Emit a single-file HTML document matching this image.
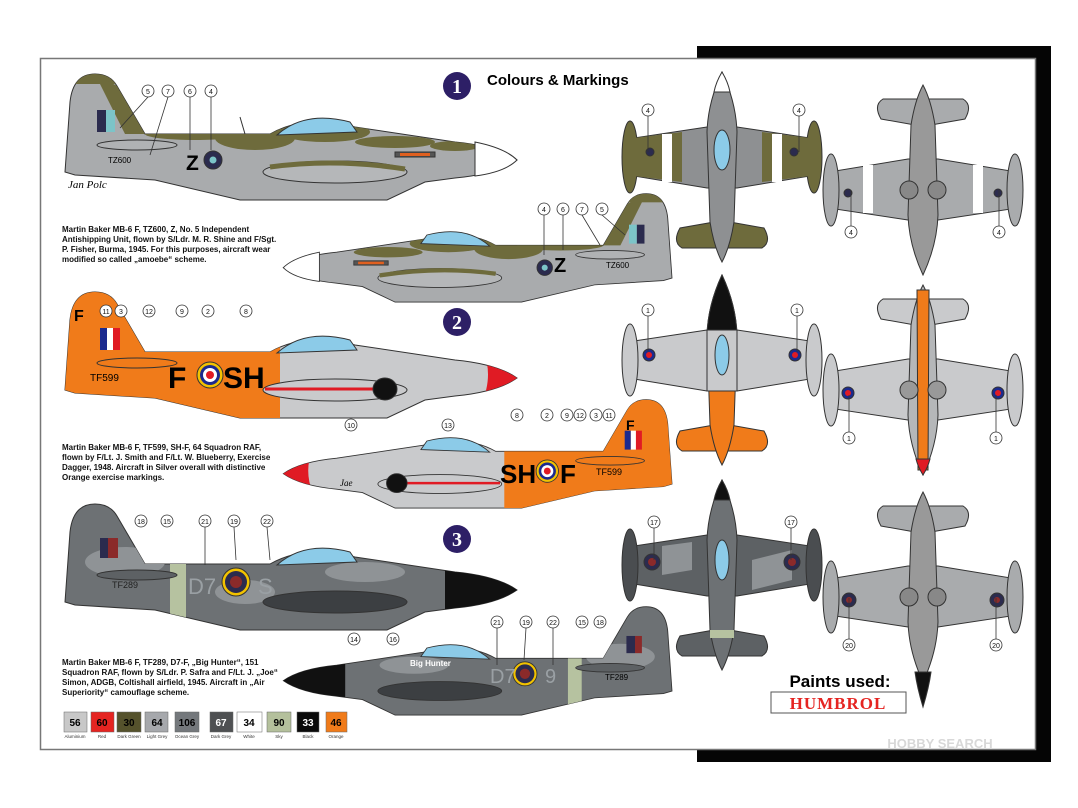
<!DOCTYPE html>
<html><head><meta charset="utf-8"><style>
html,body{margin:0;padding:0;background:#fff;}
svg{display:block;font-family:"Liberation Sans",Arial,sans-serif;}
</style></head><body>
<svg width="1078" height="808" viewBox="0 0 1078 808" xmlns="http://www.w3.org/2000/svg">
<defs>
<path id="fus" d="M0,100 L5,30 Q8,2 30,2 Q45,2 52,14 L80,62 L205,62 Q240,42 290,55 L390,70 Q432,74 452,88 Q432,102 390,106 L360,110 L322,128 L175,128 L90,108 L10,103 Z"/>
<clipPath id="fc"><use href="#fus"/></clipPath>
<path id="can" d="M212,63 Q240,38 285,50 L292,60 Z"/>
<ellipse id="belly" cx="270" cy="100" rx="72" ry="11"/>
<ellipse id="tp" cx="72" cy="73" rx="40" ry="5"/>
<path id="pf" d="M0,0 Q-14,30 -15,60 L-12,150 Q-8,175 0,190 Q8,175 12,150 L15,60 Q14,30 0,0 Z"/>
<path id="pw" d="M-15,55 L-88,66 L-88,104 L-15,116 L15,116 L88,104 L88,66 L15,55 Z"/>
<path id="pt" d="M-8,150 L-42,156 Q-50,170 -40,176 L40,176 Q50,170 42,156 L8,150 Z"/>
<g id="tanks"><ellipse cx="-92" cy="85" rx="8" ry="36"/><ellipse cx="92" cy="85" rx="8" ry="36"/></g>
</defs>

<rect x="697" y="46" width="354" height="716" fill="#050505"/>
<rect x="40.5" y="58.5" width="995" height="691" fill="#fff" stroke="#777" stroke-width="1.5"/>

<circle cx="457" cy="86" r="14" fill="#2d1f66"/><text x="457" y="93" font-size="20" font-weight="bold" fill="#fff" text-anchor="middle" font-family="Liberation Serif">1</text>
<text x="487" y="85" font-size="15" font-weight="bold">Colours &amp; Markings</text>
<circle cx="457" cy="322" r="14" fill="#2d1f66"/><text x="457" y="329" font-size="20" font-weight="bold" fill="#fff" text-anchor="middle" font-family="Liberation Serif">2</text>
<circle cx="457" cy="539" r="14" fill="#2d1f66"/><text x="457" y="546" font-size="20" font-weight="bold" fill="#fff" text-anchor="middle" font-family="Liberation Serif">3</text>

<!-- SIDE 1 -->
<g transform="translate(65,72)" stroke="#333" stroke-width="1">
 <use href="#fus" fill="#a9abad"/>
 <g clip-path="url(#fc)" fill="#6e6b3c" stroke="none">
  <rect x="0" y="0" width="60" height="12"/><path d="M30,2 L52,14 L80,62 L60,62 Z"/><ellipse cx="130" cy="62" rx="50" ry="6"/><ellipse cx="190" cy="66" rx="40" ry="12"/><ellipse cx="260" cy="60" rx="45" ry="10"/><ellipse cx="330" cy="70" rx="40" ry="6"/><ellipse cx="390" cy="74" rx="25" ry="5"/>
 </g>
 <use href="#tp" fill="#b0b2b4"/>
 <use href="#belly" fill="#b5b7b9"/>
 <path d="M205,95 Q270,86 340,97" stroke="#6e6b3c" stroke-width="5" fill="none"/>
 <use href="#can" fill="#8ccbe8"/>
 <rect x="32" y="38" width="9" height="22" fill="#2b2b4e" stroke="none"/><rect x="41" y="38" width="9" height="22" fill="#7cc4c8" stroke="none"/>
 <path d="M410,70 Q440,76 452,88 Q440,100 410,104 Z" fill="#fff"/>
 <circle cx="148" cy="88" r="9" fill="#2b2b4e"/><circle cx="148" cy="88" r="3.5" fill="#7cc4c8" stroke="none"/>
 <rect x="330" y="80" width="40" height="5" fill="#555"/><rect x="335" y="81" width="30" height="3" fill="#e06020" stroke="none"/>
 <path d="M175,45 L180,62" stroke="#333" fill="none"/>
</g>
<text x="186" y="170" font-size="21" font-weight="bold">Z</text>
<text x="108" y="163" font-size="8">TZ600</text>
<text x="68" y="188" font-size="11" font-style="italic" font-family="Liberation Serif">Jan Polc</text>

<!-- SIDE 2 (mirrored) -->
<g transform="translate(672,192) scale(-0.86,0.86)" stroke="#333" stroke-width="1">
 <use href="#fus" fill="#a9abad"/>
 <g clip-path="url(#fc)" fill="#6e6b3c" stroke="none">
  <rect x="0" y="0" width="60" height="12"/><path d="M30,2 L52,14 L80,62 L60,62 Z"/><ellipse cx="130" cy="62" rx="50" ry="6"/><ellipse cx="190" cy="66" rx="40" ry="12"/><ellipse cx="260" cy="60" rx="45" ry="10"/><ellipse cx="330" cy="70" rx="40" ry="6"/>
 </g>
 <use href="#tp" fill="#b0b2b4"/>
 <use href="#belly" fill="#b5b7b9"/>
 <path d="M205,95 Q270,86 340,97" stroke="#6e6b3c" stroke-width="5" fill="none"/>
 <use href="#can" fill="#8ccbe8"/>
 <rect x="32" y="38" width="9" height="22" fill="#2b2b4e" stroke="none"/><rect x="41" y="38" width="9" height="22" fill="#7cc4c8" stroke="none"/>
 <path d="M410,70 Q440,76 452,88 Q440,100 410,104 Z" fill="#fff"/>
 <circle cx="148" cy="88" r="9" fill="#2b2b4e"/><circle cx="148" cy="88" r="3.5" fill="#7cc4c8" stroke="none"/>
 <rect x="330" y="80" width="40" height="5" fill="#555"/><rect x="335" y="81" width="30" height="3" fill="#e06020" stroke="none"/>
</g>
<text x="554" y="272" font-size="20" font-weight="bold">Z</text>
<text x="606" y="268" font-size="8">TZ600</text>

<!-- SIDE 3 orange -->
<g transform="translate(65,290)" stroke="#333" stroke-width="1">
 <use href="#fus" fill="#c9cacc"/>
 <g clip-path="url(#fc)" stroke="none"><rect x="0" y="0" width="215" height="130" fill="#f07b1a"/><path d="M418,60 L460,60 L460,110 L418,110 Q428,84 418,60Z" fill="#e01b24"/></g>
 <use href="#tp" fill="#f07b1a"/>
 <use href="#belly" fill="#c9cacc"/>
 <path d="M200,99 L318,99" stroke="#e01b24" stroke-width="3"/>
 <ellipse cx="320" cy="99" rx="12" ry="11" fill="#111"/>
 <use href="#can" fill="#8ccbe8"/>
 <rect x="35" y="38" width="7" height="22" fill="#1b2a8f" stroke="none"/><rect x="42" y="38" width="6" height="22" fill="#fff" stroke="none"/><rect x="48" y="38" width="7" height="22" fill="#e01b24" stroke="none"/>
 <circle cx="145" cy="85" r="13" fill="#f2c200"/><circle cx="145" cy="85" r="10" fill="#1b2a8f" stroke="none"/><circle cx="145" cy="85" r="7" fill="#fff" stroke="none"/><circle cx="145" cy="85" r="4" fill="#e01b24" stroke="none"/>
</g>
<text x="168" y="388" font-size="30" font-weight="bold">F</text>
<text x="223" y="388" font-size="30" font-weight="bold">SH</text>
<text x="74" y="321" font-size="16" font-weight="bold">F</text>
<text x="90" y="381" font-size="10">TF599</text>

<!-- SIDE 4 -->
<g transform="translate(672,398) scale(-0.86,0.86)" stroke="#333" stroke-width="1">
 <use href="#fus" fill="#c9cacc"/>
 <g clip-path="url(#fc)" stroke="none"><rect x="0" y="0" width="195" height="130" fill="#f07b1a"/><path d="M418,60 L460,60 L460,110 L418,110 Q428,84 418,60Z" fill="#e01b24"/></g>
 <use href="#tp" fill="#f07b1a"/>
 <use href="#belly" fill="#c9cacc"/>
 <path d="M200,99 L318,99" stroke="#e01b24" stroke-width="3"/>
 <ellipse cx="320" cy="99" rx="12" ry="11" fill="#111"/>
 <use href="#can" fill="#8ccbe8"/>
 <rect x="35" y="38" width="7" height="22" fill="#e01b24" stroke="none"/><rect x="42" y="38" width="6" height="22" fill="#fff" stroke="none"/><rect x="48" y="38" width="7" height="22" fill="#1b2a8f" stroke="none"/>
 <circle cx="145" cy="85" r="13" fill="#f2c200"/><circle cx="145" cy="85" r="10" fill="#1b2a8f" stroke="none"/><circle cx="145" cy="85" r="7" fill="#fff" stroke="none"/><circle cx="145" cy="85" r="4" fill="#e01b24" stroke="none"/>
</g>
<text x="500" y="483" font-size="26" font-weight="bold">SH</text>
<text x="560" y="483" font-size="26" font-weight="bold">F</text>
<text x="626" y="430" font-size="14" font-weight="bold">F</text>
<text x="596" y="475" font-size="9">TF599</text>
<text x="340" y="486" font-size="9" font-style="italic" font-family="Liberation Serif">Jae</text>

<!-- SIDE 5 dark -->
<g transform="translate(65,502)" stroke="#333" stroke-width="1">
 <use href="#fus" fill="#6d7174"/>
 <g clip-path="url(#fc)" stroke="none">
  <ellipse cx="60" cy="60" rx="40" ry="15" fill="#8f9396"/><ellipse cx="180" cy="90" rx="30" ry="12" fill="#8f9396"/><ellipse cx="300" cy="70" rx="40" ry="10" fill="#8f9396"/><rect x="105" y="40" width="16" height="90" fill="#b6c2a0"/><path d="M380,50 L460,50 L460,120 L380,120 Z" fill="#111"/>
 </g>
 <use href="#tp" fill="#5d6164"/>
 <use href="#belly" fill="#3c3f42"/>
 <use href="#can" fill="#8ccbe8"/>
 <rect x="35" y="36" width="8" height="20" fill="#2b2b4e" stroke="none"/><rect x="43" y="36" width="10" height="20" fill="#8b2a2a" stroke="none"/>
 <circle cx="171" cy="80" r="14" fill="#f2c200"/><circle cx="171" cy="80" r="11" fill="#2b2b4e" stroke="none"/><circle cx="171" cy="80" r="6" fill="#8b2a2a" stroke="none"/>
</g>
<text x="188" y="594" font-size="22" fill="#9aa0a4">D7</text>
<text x="258" y="594" font-size="22" fill="#9aa0a4">S</text>
<text x="112" y="588" font-size="9" fill="#222">TF289</text>

<!-- SIDE 6 -->
<g transform="translate(672,605) scale(-0.86,0.86)" stroke="#333" stroke-width="1">
 <use href="#fus" fill="#6d7174"/>
 <g clip-path="url(#fc)" stroke="none">
  <ellipse cx="60" cy="60" rx="40" ry="15" fill="#8f9396"/><ellipse cx="300" cy="70" rx="40" ry="10" fill="#8f9396"/><rect x="105" y="40" width="16" height="90" fill="#b6c2a0"/><path d="M380,50 L460,50 L460,120 L380,120 Z" fill="#111"/>
 </g>
 <use href="#tp" fill="#5d6164"/>
 <use href="#belly" fill="#3c3f42"/>
 <use href="#can" fill="#8ccbe8"/>
 <rect x="35" y="36" width="8" height="20" fill="#8b2a2a" stroke="none"/><rect x="43" y="36" width="10" height="20" fill="#2b2b4e" stroke="none"/>
 <circle cx="171" cy="80" r="14" fill="#f2c200"/><circle cx="171" cy="80" r="11" fill="#2b2b4e" stroke="none"/><circle cx="171" cy="80" r="6" fill="#8b2a2a" stroke="none"/>
</g>
<text x="490" y="683" font-size="20" fill="#9aa0a4">D7</text>
<text x="545" y="683" font-size="20" fill="#9aa0a4">9</text>
<text x="410" y="666" font-size="8" fill="#fff" font-weight="bold">Big Hunter</text>
<text x="605" y="680" font-size="8">TF289</text>

<g font-size="8" font-weight="bold" fill="#111">
<text x="62" y="232">Martin Baker MB-6 F, TZ600, Z, No. 5 Independent</text>
<text x="62" y="242">Antishipping Unit, flown by S/Ldr. M. R. Shine and F/Sgt.</text>
<text x="62" y="252">P. Fisher, Burma, 1945. For this purposes, aircraft wear</text>
<text x="62" y="262">modified so called „amoebe“ scheme.</text>
<text x="62" y="450">Martin Baker MB-6 F, TF599, SH-F, 64 Squadron RAF,</text>
<text x="62" y="460">flown by F/Lt. J. Smith and F/Lt. W. Blueberry, Exercise</text>
<text x="62" y="470">Dagger, 1948. Aircraft in Silver overall with distinctive</text>
<text x="62" y="480">Orange exercise markings.</text>
<text x="62" y="665">Martin Baker MB-6 F, TF289, D7-F, „Big Hunter“, 151</text>
<text x="62" y="675">Squadron RAF, flown by S/Ldr. P. Safra and F/Lt. J. „Joe“</text>
<text x="62" y="685">Simon, ADGB, Coltishall airfield, 1945. Aircraft in „Air</text>
<text x="62" y="695">Superiority“ camouflage scheme.</text>
</g>

<g font-size="10" font-weight="bold" text-anchor="middle" stroke="#666" stroke-width="0.5">
<rect x="64" y="712" width="23" height="20" fill="#c8c8c8"/><text x="75" y="726" stroke="none">56</text>
<rect x="91" y="712" width="23" height="20" fill="#e52421"/><text x="102" y="726" stroke="none">60</text>
<rect x="117" y="712" width="24" height="20" fill="#55522c"/><text x="129" y="726" stroke="none">30</text>
<rect x="145" y="712" width="23" height="20" fill="#a6a8ac"/><text x="157" y="726" stroke="none">64</text>
<rect x="175" y="712" width="24" height="20" fill="#74787c"/><text x="187" y="726" stroke="none">106</text>
<rect x="210" y="712" width="23" height="20" fill="#4e5052"/><text x="221" y="726" stroke="none" fill="#fff">67</text>
<rect x="237" y="712" width="25" height="20" fill="#fff"/><text x="249" y="726" stroke="none">34</text>
<rect x="267" y="712" width="24" height="20" fill="#b4c09c"/><text x="279" y="726" stroke="none">90</text>
<rect x="297" y="712" width="22" height="20" fill="#0a0a0a"/><text x="308" y="726" stroke="none" fill="#fff">33</text>
<rect x="326" y="712" width="21" height="20" fill="#f07b1a"/><text x="336" y="726" stroke="none">46</text>
</g>
<g font-size="4.5" text-anchor="middle" fill="#333">
<text x="75" y="738">Aluminium</text><text x="102" y="738">Red</text><text x="129" y="738">Dark Green</text><text x="157" y="738">Light Grey</text><text x="187" y="738">Ocean Grey</text><text x="221" y="738">Dark Grey</text><text x="249" y="738">White</text><text x="279" y="738">Sky</text><text x="308" y="738">Black</text><text x="336" y="738">Orange</text>
</g>

<g transform="translate(722,72)" stroke="#333" stroke-width="1">
 <use href="#pw" fill="#8e9092"/><use href="#tanks" fill="#6e6b3c"/>
 <path d="M-88,66 L-40,60 L-40,110 L-88,104Z M40,60 L88,66 L88,104 L40,110Z" fill="#6e6b3c" stroke="none"/>
 <rect x="-60" y="62" width="10" height="48" fill="#fff" stroke="none"/><rect x="50" y="62" width="10" height="48" fill="#fff" stroke="none"/>
 <use href="#pt" fill="#6e6b3c"/>
 <use href="#pf" fill="#8e9092"/>
 <path d="M0,0 Q-6,10 -8,20 L8,20 Q6,10 0,0Z" fill="#fff"/>
 <ellipse cx="0" cy="78" rx="8" ry="20" fill="#8ccbe8"/>
 <circle cx="-72" cy="80" r="4" fill="#2b2b4e"/><circle cx="72" cy="80" r="4" fill="#2b2b4e"/>
</g>
<g transform="translate(923,275) scale(1,-1)" stroke="#333" stroke-width="1">
 <use href="#pw" fill="#a9abad"/><use href="#tanks" fill="#a9abad"/>
 <rect x="-60" y="62" width="10" height="48" fill="#fff" stroke="none"/><rect x="50" y="62" width="10" height="48" fill="#fff" stroke="none"/>
 <use href="#pt" fill="#a9abad"/>
 <use href="#pf" fill="#999"/>
 <circle cx="-75" cy="82" r="4" fill="#2b2b4e"/><circle cx="75" cy="82" r="4" fill="#2b2b4e"/>
 <circle cx="-14" cy="85" r="9" fill="#888"/><circle cx="14" cy="85" r="9" fill="#888"/>
</g>

<g transform="translate(722,275)" stroke="#333" stroke-width="1">
 <use href="#pw" fill="#c9cacc"/><use href="#tanks" fill="#c9cacc"/>
 <use href="#pt" fill="#f07b1a"/>
 <use href="#pf" fill="#f07b1a"/>
 <path d="M0,0 Q-14,30 -15,60 L15,60 Q14,30 0,0Z" fill="#111"/>
 <path d="M-15,55 L-15,116 L15,116 L15,55Z" fill="#c9cacc"/>
 <ellipse cx="0" cy="80" rx="7" ry="20" fill="#8ccbe8"/>
 <circle cx="-73" cy="80" r="6" fill="#1b2a8f"/><circle cx="-73" cy="80" r="3" fill="#e01b24" stroke="none"/>
 <circle cx="73" cy="80" r="6" fill="#1b2a8f"/><circle cx="73" cy="80" r="3" fill="#e01b24" stroke="none"/>
</g>
<g transform="translate(923,475) scale(1,-1)" stroke="#333" stroke-width="1">
 <use href="#pw" fill="#c9cacc"/><use href="#tanks" fill="#c9cacc"/>
 <use href="#pt" fill="#c9cacc"/>
 <use href="#pf" fill="#b5b7b9"/>
 <path d="M-5,5 L5,5 L6,185 L-6,185Z" fill="#f07b1a"/>
 <path d="M0,0 Q-5,8 -7,16 L7,16 Q5,8 0,0Z" fill="#e01b24"/>
 <circle cx="-75" cy="82" r="6" fill="#1b2a8f"/><circle cx="-75" cy="82" r="3" fill="#e01b24" stroke="none"/>
 <circle cx="75" cy="82" r="6" fill="#1b2a8f"/><circle cx="75" cy="82" r="3" fill="#e01b24" stroke="none"/>
 <circle cx="-14" cy="85" r="9" fill="#999"/><circle cx="14" cy="85" r="9" fill="#999"/>
</g>

<g transform="translate(722,480)" stroke="#333" stroke-width="1">
 <use href="#pw" fill="#5d6164"/><use href="#tanks" fill="#4a4d50"/>
 <path d="M-60,66 L-30,62 L-30,90 L-60,95Z M30,80 L70,70 L70,100 L30,110Z" fill="#8f9396" stroke="none"/>
 <use href="#pt" fill="#5d6164"/>
 <use href="#pf" fill="#6d7174"/>
 <path d="M0,0 Q-6,10 -8,20 L8,20 Q6,10 0,0Z" fill="#111"/>
 <ellipse cx="0" cy="80" rx="7" ry="20" fill="#8ccbe8"/>
 <rect x="-12" y="150" width="24" height="8" fill="#b6c2a0" stroke="none"/>
 <circle cx="-70" cy="82" r="8" fill="#2b2b4e"/><circle cx="-70" cy="82" r="4" fill="#8b2a2a" stroke="none"/>
 <circle cx="70" cy="82" r="8" fill="#2b2b4e"/><circle cx="70" cy="82" r="4" fill="#8b2a2a" stroke="none"/>
</g>
<g transform="translate(923,682) scale(1,-1)" stroke="#333" stroke-width="1">
 <use href="#pw" fill="#a9abad"/><use href="#tanks" fill="#a9abad"/>
 <use href="#pt" fill="#a9abad"/>
 <use href="#pf" fill="#999"/>
 <path d="M0,-25 Q-6,-5 -8,10 L8,10 Q6,-5 0,-25Z" fill="#111"/>
 <circle cx="-74" cy="82" r="7" fill="#2b2b4e"/><circle cx="-74" cy="82" r="3" fill="#8b2a2a" stroke="none"/>
 <circle cx="74" cy="82" r="7" fill="#2b2b4e"/><circle cx="74" cy="82" r="3" fill="#8b2a2a" stroke="none"/>
 <circle cx="-14" cy="85" r="9" fill="#888"/><circle cx="14" cy="85" r="9" fill="#888"/>
</g>

<g font-size="8" text-anchor="middle" stroke="#333" stroke-width="0.8">
<g fill="#fff">
<circle cx="148" cy="91" r="6"/><circle cx="168" cy="91" r="6"/><circle cx="190" cy="91" r="6"/><circle cx="211" cy="91" r="6"/>
<circle cx="544" cy="209" r="6"/><circle cx="563" cy="209" r="6"/><circle cx="582" cy="209" r="6"/><circle cx="602" cy="209" r="6"/>
<circle cx="648" cy="110" r="6"/><circle cx="799" cy="110" r="6"/><circle cx="851" cy="232" r="6"/><circle cx="999" cy="232" r="6"/>
<circle cx="106" cy="311" r="6"/><circle cx="121" cy="311" r="6"/><circle cx="149" cy="311" r="6"/><circle cx="182" cy="311" r="6"/><circle cx="208" cy="311" r="6"/><circle cx="246" cy="311" r="6"/>
<circle cx="351" cy="425" r="6"/><circle cx="448" cy="425" r="6"/><circle cx="517" cy="415" r="6"/><circle cx="547" cy="415" r="6"/><circle cx="567" cy="415" r="6"/><circle cx="580" cy="415" r="6"/><circle cx="596" cy="415" r="6"/><circle cx="609" cy="415" r="6"/>
<circle cx="648" cy="310" r="6"/><circle cx="797" cy="310" r="6"/><circle cx="849" cy="438" r="6"/><circle cx="996" cy="438" r="6"/>
<circle cx="141" cy="521" r="6"/><circle cx="167" cy="521" r="6"/><circle cx="205" cy="521" r="6"/><circle cx="234" cy="521" r="6"/><circle cx="267" cy="521" r="6"/>
<circle cx="354" cy="639" r="6"/><circle cx="393" cy="639" r="6"/><circle cx="497" cy="622" r="6"/><circle cx="526" cy="622" r="6"/><circle cx="553" cy="622" r="6"/><circle cx="582" cy="622" r="6"/><circle cx="600" cy="622" r="6"/>
<circle cx="654" cy="522" r="6"/><circle cx="791" cy="522" r="6"/><circle cx="849" cy="645" r="6"/><circle cx="996" cy="645" r="6"/>
</g>
<g stroke="none" fill="#111" font-size="7">
<text x="148" y="94">5</text><text x="168" y="94">7</text><text x="190" y="94">6</text><text x="211" y="94">4</text>
<text x="544" y="212">4</text><text x="563" y="212">6</text><text x="582" y="212">7</text><text x="602" y="212">5</text>
<text x="648" y="113">4</text><text x="799" y="113">4</text><text x="851" y="235">4</text><text x="999" y="235">4</text>
<text x="106" y="314">11</text><text x="121" y="314">3</text><text x="149" y="314">12</text><text x="182" y="314">9</text><text x="208" y="314">2</text><text x="246" y="314">8</text>
<text x="351" y="428">10</text><text x="448" y="428">13</text><text x="517" y="418">8</text><text x="547" y="418">2</text><text x="567" y="418">9</text><text x="580" y="418">12</text><text x="596" y="418">3</text><text x="609" y="418">11</text>
<text x="648" y="313">1</text><text x="797" y="313">1</text><text x="849" y="441">1</text><text x="996" y="441">1</text>
<text x="141" y="524">18</text><text x="167" y="524">15</text><text x="205" y="524">21</text><text x="234" y="524">19</text><text x="267" y="524">22</text>
<text x="354" y="642">14</text><text x="393" y="642">16</text><text x="497" y="625">21</text><text x="526" y="625">19</text><text x="553" y="625">22</text><text x="582" y="625">15</text><text x="600" y="625">18</text>
<text x="654" y="525">17</text><text x="791" y="525">17</text><text x="849" y="648">20</text><text x="996" y="648">20</text>
</g>
<g fill="none">
<path d="M648,116 V152 M799,116 V152 M851,226 V190 M999,226 V190 M648,316 V352 M797,316 V352 M849,432 V395 M996,432 V395 M654,528 V560 M791,528 V560 M849,639 V598 M996,639 V598"/>
<path d="M148,97 L120,128 M168,97 L150,155 M190,97 L190,150 M211,97 L211,150 M544,215 L544,255 M563,215 L563,250 M582,215 L600,245 M602,215 L625,235"/>
<path d="M234,527 L236,560 M205,527 L205,565 M267,527 L270,560 M526,628 L524,660 M497,628 L497,665 M553,628 L553,665"/>
</g>
</g>

<text x="840" y="687" font-size="17" font-weight="bold" text-anchor="middle">Paints used:</text>
<rect x="771" y="692" width="135" height="21" fill="#fff" stroke="#555" stroke-width="1"/>
<text x="838" y="709" font-size="17" font-weight="bold" fill="#e52421" text-anchor="middle" font-family="Liberation Serif" letter-spacing="1">HUMBROL</text>
<text x="940" y="748" font-size="13" fill="#d8d8d8" font-weight="bold" text-anchor="middle">HOBBY SEARCH</text>
</svg>
</body></html>
